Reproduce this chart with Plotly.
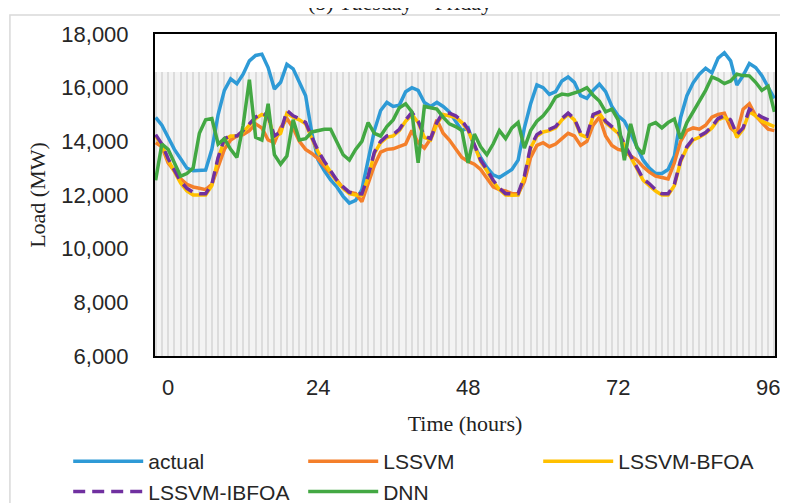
import plotly.graph_objects as go

# ---------------- data ----------------
hours = list(range(-2, 98))

actual = [14890, 14600, 14150, 13700, 13350, 13000, 12900, 12900, 12930, 13700,
          15000, 15900, 16330, 16150, 16500, 17000, 17200, 17250, 16750, 15950,
          16200, 16870, 16700, 16200, 15700, 14300, 13300, 12900, 12560, 12300,
          11950, 11700, 11800, 12200, 13300, 14400, 15150, 15450, 15300, 15350,
          15850, 16000, 15900, 15450, 15300, 15450, 15300, 15100, 14750, 14400,
          14500, 13800, 13400, 13030, 12750, 12650, 12800, 12950, 13300, 14500,
          15400, 16100, 16000, 15750, 15850, 16250, 16400, 16200, 15700, 15600,
          15900, 16130, 15850, 15300, 14950, 14750, 14300, 13800, 13300, 13000,
          12800, 12800, 12950, 13450, 14890, 15700, 16180, 16500, 16720, 16550,
          17100, 17300, 17000, 16100, 16450, 16900, 16750, 16450, 16000, 15600]

lssvm = [13950, 13800, 13200, 12900, 12600, 12400, 12300, 12250, 12200, 12400,
         13100, 13700, 14050, 14200, 14250, 14400, 14650, 14500, 14050, 13950,
         14500, 14850, 14500, 14000, 13700, 13550, 13350, 13050, 12800, 12550,
         12250, 12100, 12050, 11750, 12400, 13100, 13600, 13700, 13720, 13800,
         13900, 14400, 13950, 13750, 14100, 14800, 14300, 14050, 13750, 13400,
         13250, 13150, 12950, 12600, 12300, 12200, 12150, 12050, 12050, 12500,
         13400, 13850, 13950, 13800, 13900, 14100, 14300, 14200, 13850, 14000,
         14600, 14900, 14200, 13850, 13700, 13650, 13450, 13300, 13050, 12850,
         12700, 12650, 12600, 13200, 14000, 14400, 14500, 14450, 14600, 14900,
         15000, 15050, 14500, 14300, 15200, 15400, 14950, 14700, 14450, 14400]

lssvm_bfoa = [14200, 13850, 13300, 12850, 12450, 12150, 12000, 12000, 12000, 12350,
              13350, 14050, 14200, 14200, 14350, 14600, 14850, 15000, 14900, 14150,
              14300, 15050, 14900, 14800, 14650, 14100, 13600, 13200, 12850, 12500,
              12250, 12050, 12000, 11990, 12650, 13550, 13950, 14150, 14200, 14400,
              14750, 15000, 14700, 14150, 14050, 14650, 15000, 14950, 14900, 14700,
              14400, 13850, 13250, 12900, 12500, 12200, 12000, 11990, 12000, 12650,
              13750, 14200, 14350, 14400, 14500, 14800, 15000, 14800, 14250, 14150,
              14950, 15050, 14700, 14500, 14300, 13850, 13400, 12950, 12550, 12350,
              12150, 12000, 12000, 12350, 13250, 13750, 14050, 14150, 14300, 14500,
              14800, 14900, 14750, 14150, 14450, 15100, 14950, 14750, 14650, 14550]

lssvm_ibfoa = [14250, 13900, 13350, 12900, 12500, 12250, 12100, 12050, 12050, 12400,
               13400, 14100, 14200, 14200, 14400, 14650, 14900, 15050, 14950, 14200,
               14350, 15150, 14950, 14850, 14700, 14150, 13650, 13250, 12900, 12550,
               12300, 12100, 12050, 12040, 12700, 13600, 14000, 14200, 14250, 14450,
               14800, 15080, 14750, 14200, 14100, 14700, 15080, 15050, 14950, 14770,
               14450, 13900, 13300, 12950, 12550, 12250, 12050, 12040, 12050, 12700,
               13800, 14250, 14400, 14450, 14550, 14850, 15050, 14850, 14300, 14200,
               15000, 15100, 14750, 14550, 14380, 13900, 13450, 13000, 12600, 12420,
               12200, 12050, 12050, 12400, 13300, 13800, 14100, 14200, 14330, 14550,
               14850, 14950, 14800, 14250, 14500, 15200, 15050, 14900, 14800, 14700]

dnn = [12550, 13900, 13700, 13200, 12700, 12800, 13000, 14300, 14800, 14850,
       13900, 14100, 13700, 13400, 14600, 16300, 14150, 14050, 15400, 13500,
       13150, 13450, 14800, 14050, 14100, 14350, 14400, 14450, 14450, 14000,
       13500, 13300, 13700, 14000, 14700, 14300, 14200, 14550, 14800, 15250,
       15400, 15100, 13200, 15300, 15250, 15200, 14900, 14650, 14550, 14400,
       13200, 14270, 13800, 13500, 13900, 14400, 14100, 14500, 14700, 13750,
       14400, 14750, 14950, 15250, 15650, 15760, 15730, 15800, 15880, 16000,
       15720, 15500, 15100, 15200, 14800, 13300, 14650, 13770, 13530, 14600,
       14700, 14500, 14700, 14830, 14100, 14700, 15100, 15450, 15900, 16400,
       16300, 16150, 16250, 16500, 16450, 16440, 16200, 15900, 16050, 15100]

band_level = [16600] * len(hours)   # shaded background band

x_tick_vals = [0, 24, 48, 72, 96]
y_tick_vals = [6000, 8000, 10000, 12000, 14000, 16000, 18000]

series = [
    ("actual", actual, "#2E9AD6", None),
    ("LSSVM", lssvm, "#F47F2A", None),
    ("LSSVM-BFOA", lssvm_bfoa, "#FFC000", None),
    ("LSSVM-IBFOA", lssvm_ibfoa, "#7030A0", "12px,7px"),
    ("DNN", dnn, "#43A843", None),
]

SANS = "Liberation Sans, Arial, sans-serif"
SERIF = "Liberation Serif, Times New Roman, serif"

W, H = 780, 495

fig = go.Figure()

# background striped band
fig.add_trace(go.Bar(x=hours, y=band_level, width=1.0, marker=dict(color="#F3F3F3", line=dict(width=0)),
                     showlegend=False, hoverinfo="skip"))
fig.add_trace(go.Bar(x=hours, y=band_level, width=0.35, marker=dict(color="#DCDCDC", line=dict(width=0)),
                     showlegend=False, hoverinfo="skip"))

for name, vals, color, dash in series:
    fig.add_trace(go.Scatter(x=hours, y=vals, mode="lines", name=name,
                             line=dict(color=color, width=3.5, dash=dash if dash else "solid")))

fig.add_annotation(text="(b) Tuesday \u2013 Friday", xref="paper", yref="paper",
                   x=0.395, y=1.099, xanchor="center", yanchor="middle", showarrow=False,
                   font=dict(family=SERIF, size=22, color="#222"))

fig.update_layout(
    width=W, height=H,
    margin=dict(l=147, r=13, t=26, b=147, autoexpand=False),
    paper_bgcolor="white", plot_bgcolor="white",
    barmode="overlay", bargap=0,
    xaxis=dict(range=[-2.1, 97.1], tickvals=x_tick_vals, showgrid=False, zeroline=False,
               showline=True, mirror=True, linecolor="black", linewidth=2,
               ticks="", ticklabelstandoff=11,
               tickfont=dict(family=SANS, size=22, color="#262626"),
               title=dict(text="Time (hours)", font=dict(family=SERIF, size=22, color="#222"), standoff=16)),
    yaxis=dict(range=[6000, 18000], tickvals=y_tick_vals, tickformat=",", showgrid=False, zeroline=False,
               showline=True, mirror=True, linecolor="black", linewidth=2,
               ticks="", ticklabelstandoff=20,
               tickfont=dict(family=SANS, size=22, color="#262626"),
               title=dict(text="Load (MW)", font=dict(family=SERIF, size=22, color="#222"), standoff=10)),
    legend=dict(orientation="h", xref="paper", yref="paper", x=-0.14, y=-0.264,
                xanchor="left", yanchor="top", entrywidth=150, entrywidthmode="pixels",
                itemwidth=70, font=dict(family=SANS, size=21, color="#262626"),
                bgcolor="rgba(0,0,0,0)"),
    shapes=[dict(type="rect", xref="paper", yref="paper", x0=-0.234, x1=1.2, y0=-0.6, y1=1.059,
                 line=dict(color="#D9D9D9", width=1.5), fillcolor="rgba(0,0,0,0)", layer="below")],
)

fig.write_html("out.html")
